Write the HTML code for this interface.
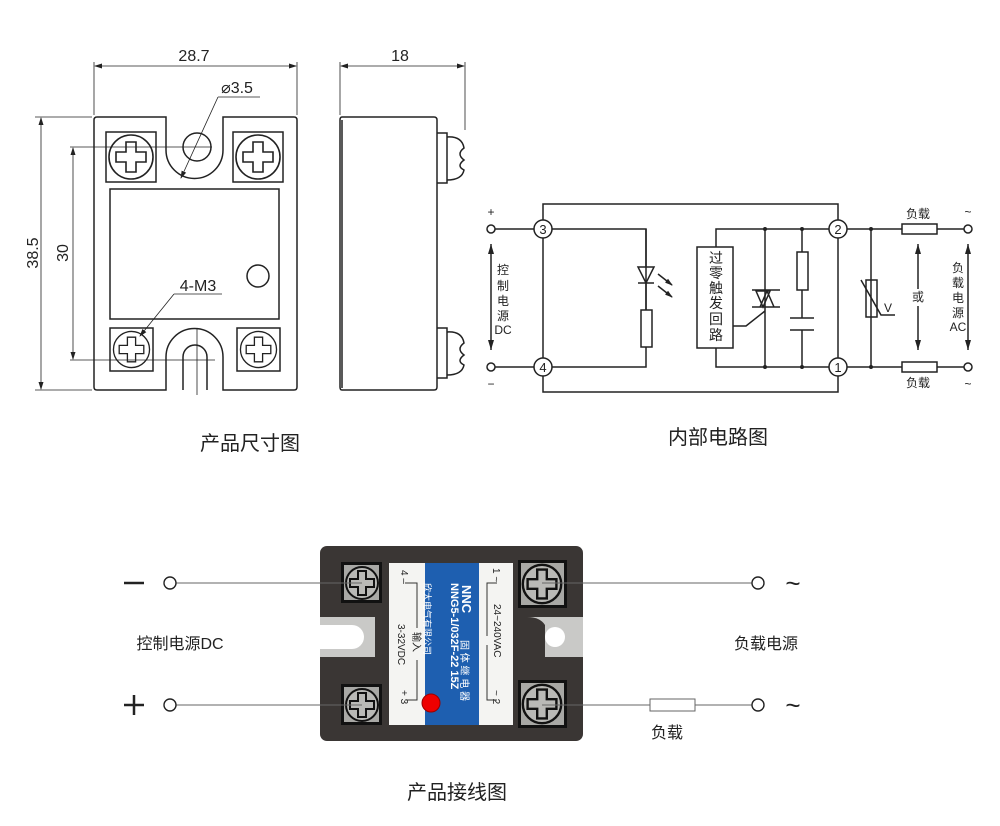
<!DOCTYPE html>
<html><head><meta charset="utf-8"><style>
html,body{margin:0;padding:0;background:#fff;width:1000px;height:826px;overflow:hidden}
svg{display:block}
text{font-family:"Liberation Sans","Noto Sans CJK SC",sans-serif;fill:#222}
</style></head><body>
<svg width="1000" height="826" viewBox="0 0 1000 826">
<defs>
<marker id="ar" markerWidth="8" markerHeight="8" refX="7" refY="4" orient="auto-start-reverse" markerUnits="userSpaceOnUse"><path d="M0,1.5 L8,4 L0,6.5z" fill="#222"/></marker>
<marker id="ab" markerWidth="10" markerHeight="12" refX="10" refY="3" orient="auto-start-reverse" markerUnits="userSpaceOnUse"><path d="M0,0 L10,3 L0,6z" fill="#222"/></marker>
<g id="scr"><circle r="22" fill="#fff" stroke="#222" stroke-width="1.6"/><path d="M-5,-15 h10 v10 h10 v10 h-10 v10 h-10 v-10 h-10 v-10 h10z" fill="#fff" stroke="#222" stroke-width="1.6"/></g>
<g id="pscr"><circle r="16" fill="#b9b9b6" stroke="#111" stroke-width="2"/><path d="M-4,-12 h8 v8 h8 v8 h-8 v8 h-8 v-8 h-8 v-8 h8z" fill="#b9b9b6" stroke="#111" stroke-width="2"/></g>
</defs>
<g fill="none" stroke="#222" stroke-width="1.5">
<path d="M97,117 H166 V150 A28.5,28.5 0 0 0 223,150 V117 H294 Q297,117 297,120 V387 Q297,390 294,390 H223 V357 A28.5,28.5 0 0 0 166,357 V390 H97 Q94,390 94,387 V120 Q94,117 97,117z"/>
<path d="M183,390 V357 A12,12 0 0 1 207,357 V390"/>
<circle cx="197" cy="147" r="14"/>
<rect x="106" y="132" width="50" height="50"/><rect x="233" y="132" width="50" height="50"/>
<rect x="110" y="328" width="43" height="43"/><rect x="237" y="328" width="43" height="43"/>
<rect x="110" y="189" width="169" height="130"/>
<circle cx="258" cy="276" r="11"/>
</g>
<use href="#scr" x="131" y="157"/><use href="#scr" x="258" y="157"/>
<use href="#scr" transform="translate(131.5 349.5) scale(0.82)"/><use href="#scr" transform="translate(258.5 349.5) scale(0.82)"/>
<g fill="none" stroke="#222" stroke-width="0.8">
<line x1="94" y1="62" x2="94" y2="115"/><line x1="297" y1="62" x2="297" y2="115"/>
<line x1="95" y1="66" x2="296" y2="66" marker-start="url(#ar)" marker-end="url(#ar)"/>
<line x1="35" y1="117" x2="92" y2="117"/><line x1="35" y1="390" x2="92" y2="390"/>
<line x1="41" y1="118" x2="41" y2="389" marker-start="url(#ar)" marker-end="url(#ar)"/>
<line x1="70" y1="147" x2="212" y2="147"/><line x1="70" y1="360" x2="215" y2="360"/>
<line x1="73" y1="148" x2="73" y2="359" marker-start="url(#ar)" marker-end="url(#ar)"/>
<line x1="218" y1="97" x2="260" y2="97"/><line x1="218" y1="97" x2="181" y2="178" marker-end="url(#ar)"/>
<line x1="174" y1="294" x2="222" y2="294"/><line x1="174" y1="294" x2="140" y2="336" marker-end="url(#ar)"/>
<line x1="197" y1="328" x2="197" y2="395"/>
<line x1="340" y1="62" x2="340" y2="115"/><line x1="465" y1="62" x2="465" y2="130"/>
<line x1="341" y1="66" x2="464" y2="66" marker-start="url(#ar)" marker-end="url(#ar)"/>
</g>
<text x="194" y="61" font-size="16" text-anchor="middle">28.7</text>
<text x="237" y="93" font-size="16" text-anchor="middle">⌀3.5</text>
<text x="198" y="291" font-size="16" text-anchor="middle">4-M3</text>
<text x="400" y="61" font-size="16" text-anchor="middle">18</text>
<text transform="translate(38 253) rotate(-90)" font-size="16" text-anchor="middle">38.5</text>
<text transform="translate(68 253) rotate(-90)" font-size="16" text-anchor="middle">30</text>
<g fill="none" stroke="#222" stroke-width="1.5">
<path d="M342,117 H434 Q437,117 437,120 V387 Q437,390 434,390 H342 Q340,390 340,387 V120 Q340,117 342,117z"/>
<line x1="342" y1="120" x2="342" y2="388"/>
<path d="M437,133 H447 V183 H437"/><path d="M447,137 Q462,136 464,148 Q456,154 464,160 Q456,166 464,170 Q462,180 447,180"/>
<path d="M437,328 H447 V378 H437"/><path d="M447,332 Q462,331 464,343 Q456,349 464,355 Q456,361 464,365 Q462,375 447,375"/>
</g>
<g fill="none" stroke="#222" stroke-width="1.5">
<path d="M543,220 V204 H838 V220"/><path d="M543,376 V392 H838 V376"/>
<line x1="543" y1="238" x2="543" y2="358"/><line x1="838" y1="238" x2="838" y2="358"/>
<line x1="495" y1="229" x2="534" y2="229"/><line x1="495" y1="367" x2="534" y2="367"/>
<path d="M552,229 H646 V310"/><path d="M552,367 H646 V347"/>
<rect x="641" y="310" width="11" height="37"/>
<path d="M638,267 H654 L646,283z M638,283 H654"/>
<line x1="646" y1="283" x2="646" y2="310"/><line x1="646" y1="267" x2="646" y2="229"/>
<line x1="658" y1="274" x2="672" y2="285" marker-end="url(#ar)"/><line x1="658" y1="286" x2="672" y2="297" marker-end="url(#ar)"/>
<rect x="697" y="247" width="36" height="101"/>
<path d="M716,247 V229 H829"/><path d="M716,348 V367 H829"/>
<line x1="765" y1="229" x2="765" y2="367"/>
<path d="M752,290 H780 M756,291 L763,307 L770,291z M760,307 L767,291 L774,307z M752,307 H780"/>
<path d="M733,326 H746 L765,311"/>
<line x1="802" y1="229" x2="802" y2="252"/><rect x="797" y="252" width="11" height="38"/>
<line x1="802" y1="290" x2="802" y2="318"/><line x1="790" y1="318" x2="814" y2="318"/><line x1="790" y1="330" x2="814" y2="330"/><line x1="802" y1="330" x2="802" y2="367"/>
<path d="M847,229 H902"/><path d="M847,367 H902"/>
<rect x="902" y="224" width="35" height="10"/><rect x="902" y="362" width="35" height="10"/>
<line x1="937" y1="229" x2="964" y2="229"/><line x1="937" y1="367" x2="964" y2="367"/>
<line x1="871" y1="229" x2="871" y2="367"/><rect x="866" y="280" width="11" height="37"/>
<path d="M861,280 L881,315 H895"/>
<line x1="918" y1="244" x2="918" y2="289" marker-start="url(#ab)"/><line x1="918" y1="306" x2="918" y2="350" marker-end="url(#ab)"/>
<line x1="968" y1="244" x2="968" y2="350" marker-start="url(#ab)" marker-end="url(#ab)"/>
<line x1="491" y1="244" x2="491" y2="350" marker-start="url(#ab)" marker-end="url(#ab)"/>
<circle cx="491" cy="229" r="4"/><circle cx="491" cy="367" r="4"/><circle cx="968" cy="229" r="4"/><circle cx="968" cy="367" r="4"/>
<circle cx="543" cy="229" r="9"/><circle cx="543" cy="367" r="9"/><circle cx="838" cy="229" r="9"/><circle cx="838" cy="367" r="9"/>
</g>
<g fill="#222"><circle cx="765" cy="229" r="2"/><circle cx="802" cy="229" r="2"/><circle cx="765" cy="367" r="2"/><circle cx="802" cy="367" r="2"/><circle cx="871" cy="229" r="2"/><circle cx="871" cy="367" r="2"/></g>
<g font-size="13" text-anchor="middle">
<text x="543" y="234">3</text><text x="543" y="372">4</text><text x="838" y="234">2</text><text x="838" y="372">1</text>
</g>
<g font-size="12" text-anchor="middle">
<text x="491" y="216">+</text><text x="491" y="388">−</text><text x="968" y="216">~</text><text x="968" y="388">~</text>
<text x="503" y="274">控</text><text x="503" y="290">制</text><text x="503" y="305">电</text><text x="503" y="320">源</text><text x="503" y="334">DC</text>
<text x="958" y="272">负</text><text x="958" y="287">载</text><text x="958" y="302">电</text><text x="958" y="317">源</text><text x="958" y="331">AC</text>
<text x="918" y="218">负载</text><text x="918" y="387">负载</text><text x="918" y="301">或</text><text x="888" y="312">V</text>
</g>
<g font-size="14" text-anchor="middle">
<text x="716" y="263">过</text><text x="716" y="278">零</text><text x="716" y="293">触</text><text x="716" y="308">发</text><text x="716" y="324">回</text><text x="716" y="340">路</text>
</g>
<text x="250" y="450" font-size="20" text-anchor="middle">产品尺寸图</text>
<text x="718" y="444" font-size="20" text-anchor="middle">内部电路图</text>
<text x="457" y="799" font-size="20" text-anchor="middle">产品接线图</text>
<rect x="320" y="546" width="263" height="195" rx="7" fill="#3a3634"/>
<rect x="320" y="617" width="55" height="40" fill="#c9c9c7"/><path d="M320,625 H352 A12,12 0 0 1 352,649 H320z" fill="#fff"/>
<rect x="527" y="617" width="56" height="40" fill="#c9c9c7"/><path d="M527,617 Q540,617 545,625 L545,657 H527z" fill="#3a3634"/><circle cx="555" cy="637" r="10" fill="#fff"/>
<rect x="389" y="563" width="124" height="162" fill="#f4f4f2"/>
<rect x="425" y="563" width="54" height="162" fill="#1e5fb0"/>
<rect x="341" y="562" width="41" height="41" fill="#111"/><rect x="344" y="565" width="35" height="35" fill="#a8a8a5"/>
<rect x="341" y="684" width="41" height="41" fill="#111"/><rect x="344" y="687" width="35" height="35" fill="#a8a8a5"/>
<rect x="518" y="560" width="49" height="48" fill="#111"/><rect x="521" y="563" width="43" height="42" fill="#a8a8a5"/>
<rect x="518" y="680" width="49" height="48" fill="#111"/><rect x="521" y="683" width="43" height="42" fill="#a8a8a5"/>
<use href="#pscr" x="362" y="583"/><use href="#pscr" x="362" y="705"/>
<use href="#pscr" transform="translate(542 584) scale(1.2)"/><use href="#pscr" transform="translate(542 704) scale(1.2)"/>
<circle cx="431" cy="703" r="9" fill="#e00" stroke="#900"/>
<text transform="translate(462 585) rotate(90)" font-weight="bold" font-size="13" style="fill:#fff">NNC</text>
<text transform="translate(451 583) rotate(90)" font-weight="bold" font-size="11" style="fill:#fff">NNG5-1/032F-22 15Z</text>
<text transform="translate(461 640) rotate(90)" font-size="10" style="fill:#fff">固 体 继 电 器</text>
<text transform="translate(424 583) rotate(90)" font-size="9" style="fill:#fff">欣大电气有限公司</text>
<g font-size="10" fill="#333">
<text transform="translate(401 570) rotate(90)">4  –</text>
<text transform="translate(413 632) rotate(90)">输入</text>
<text transform="translate(398 624) rotate(90)">3-32VDC</text>
<text transform="translate(401 690) rotate(90)">+  3</text>
<text transform="translate(493 568) rotate(90)">1  ~</text>
<text transform="translate(494 604) rotate(90)">24~240VAC</text>
<text transform="translate(493 690) rotate(90)">~  2</text>
</g>
<g fill="none" stroke="#333" stroke-width="1">
<path d="M405,583 H417 V628 M417,660 V700 H405"/><path d="M497,583 H487 V636 M487,645 V700 H497"/>
</g>
<g stroke="#666" stroke-width="1" fill="none">
<line x1="176" y1="583" x2="362" y2="583"/><line x1="176" y1="705" x2="362" y2="705"/>
<line x1="542" y1="583" x2="752" y2="583"/><line x1="542" y1="705" x2="650" y2="705"/><line x1="695" y1="705" x2="752" y2="705"/>
<rect x="650" y="699" width="45" height="12"/>
</g>
<g fill="none" stroke="#222" stroke-width="1.4">
<circle cx="170" cy="583" r="6"/><circle cx="170" cy="705" r="6"/><circle cx="758" cy="583" r="6"/><circle cx="758" cy="705" r="6"/>
</g>
<g stroke="#222" stroke-width="2.5"><line x1="124" y1="583" x2="144" y2="583"/><line x1="124" y1="705" x2="144" y2="705"/><line x1="134" y1="695" x2="134" y2="715"/></g>
<text x="793" y="592" font-size="26" text-anchor="middle">~</text><text x="793" y="714" font-size="26" text-anchor="middle">~</text>
<text x="180" y="649" font-size="16" text-anchor="middle">控制电源DC</text>
<text x="766" y="649" font-size="16" text-anchor="middle">负载电源</text>
<text x="667" y="738" font-size="16" text-anchor="middle">负载</text>
</svg>
</body></html>
